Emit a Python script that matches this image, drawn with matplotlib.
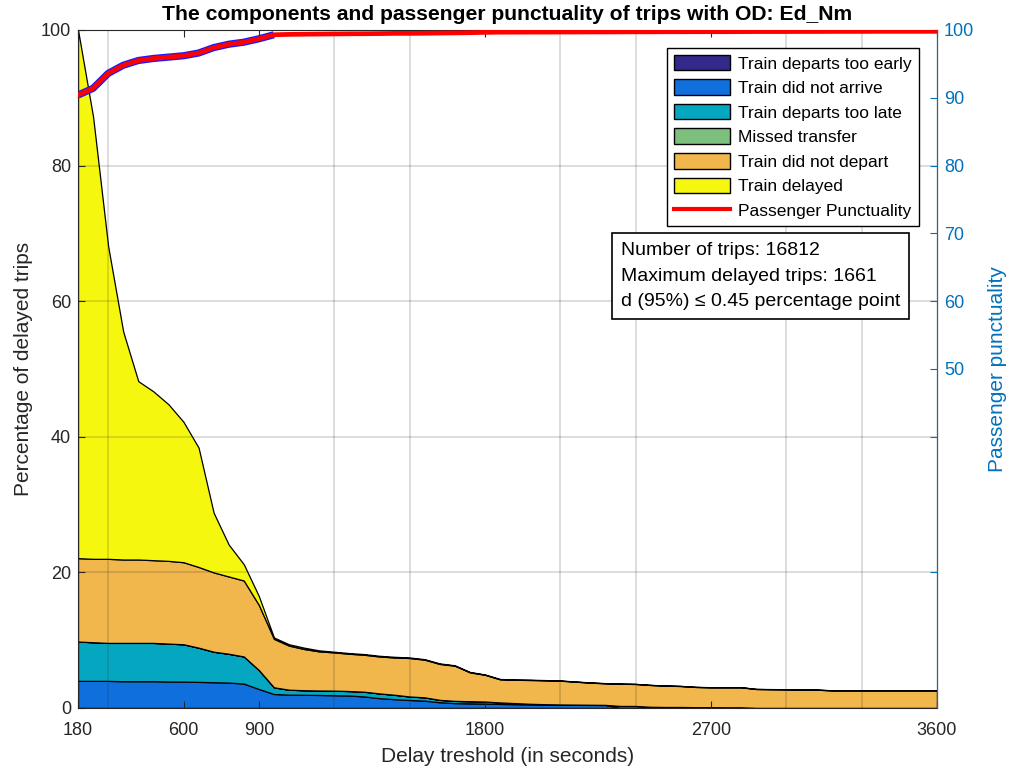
import numpy as np
import matplotlib
matplotlib.use("Agg")
import matplotlib.pyplot as plt
from matplotlib.patches import Patch
from matplotlib.lines import Line2D
from matplotlib.ticker import MultipleLocator

plt.rcParams['font.family'] = ['Liberation Sans', 'DejaVu Sans']

# ---------------- data ----------------
thresholds = np.arange(180, 3601, 60)

departs_too_early = [0.0] * 58
did_not_arrive = [4.0, 4.0, 4.0, 3.95, 3.95, 3.95, 3.9, 3.9, 3.85, 3.8, 3.75, 3.6, 2.8, 2.06,
                  1.97, 1.95, 1.92, 1.88, 1.84, 1.7, 1.45, 1.3, 1.18, 1.08, 0.85, 0.72, 0.68, 0.65,
                  0.6, 0.56, 0.53, 0.5, 0.48, 0.46, 0.45, 0.44,
                  0, 0, 0, 0, 0, 0, 0, 0, 0, 0, 0, 0, 0, 0, 0, 0, 0, 0, 0, 0, 0, 0]
departs_too_late = [5.8, 5.7, 5.6, 5.65, 5.65, 5.65, 5.6, 5.5, 5.05, 4.5, 4.25, 4.0, 2.8, 0.99,
                    0.73, 0.67, 0.66, 0.68, 0.66, 0.7, 0.7, 0.65, 0.52, 0.49, 0.35, 0.33, 0.32, 0.3,
                    0.22, 0.16, 0.09, 0.06, 0.04, 0.04, 0.03, 0.02,
                    0.3, 0.3, 0.18, 0.15, 0.15, 0.12, 0.12, 0.1, 0.1,
                    0, 0, 0, 0, 0, 0, 0, 0, 0, 0, 0, 0, 0]
missed_transfer = [0.0] * 58
did_not_depart = [12.3, 12.3, 12.4, 12.3, 12.3, 12.2, 12.2, 12.1, 11.9, 11.7, 11.4, 11.2, 9.6, 7.15,
                  6.5, 6.08, 5.77, 5.64, 5.5, 5.45, 5.45, 5.5, 5.67, 5.56, 5.3, 5.19, 4.26, 3.95,
                  3.41, 3.44, 3.51, 3.52, 3.51, 3.38, 3.26, 3.18,
                  3.28, 3.24, 3.21, 3.15, 3.09, 2.98, 2.93, 2.95, 2.95,
                  2.8, 2.77, 2.75, 2.72, 2.7, 2.6, 2.6, 2.6, 2.6, 2.6, 2.6, 2.6, 2.6]
train_delayed = [77.9, 65.2, 46.1, 33.6, 26.3, 24.9, 23.1, 20.7, 17.6, 8.8, 4.7, 2.4, 1.3, 0.2,
                 0.2, 0.2, 0.15, 0.1, 0.1, 0.1, 0.1, 0.1, 0.08, 0.07, 0.08, 0.06, 0.06, 0.05,
                 0.05, 0.04, 0.04, 0.04, 0.03, 0.03, 0.03, 0.03,
                 0.02, 0.02, 0.02, 0.02, 0.02, 0.02, 0.02, 0.02, 0.02,
                 0.02, 0.02, 0.02, 0.02, 0.02, 0.02, 0.02, 0.02, 0.02, 0.02, 0.02, 0.02, 0.02]
punctuality = [90.4, 91.4, 93.6, 94.8, 95.5, 95.8, 96.0, 96.2, 96.6, 97.4, 97.9, 98.2, 98.7, 99.3,
               99.35, 99.38, 99.4, 99.42, 99.44, 99.45, 99.47, 99.5, 99.5, 99.52, 99.55, 99.57, 99.6, 99.65,
               99.68, 99.68, 99.69, 99.69, 99.7, 99.7, 99.71, 99.71, 99.72, 99.73,
               99.73, 99.74, 99.74, 99.75, 99.75, 99.75, 99.76, 99.77, 99.77, 99.77,
               99.78, 99.78, 99.79, 99.79, 99.79, 99.8, 99.8, 99.8, 99.8, 99.8]
n_blue_overlay = 14  # points where the blue punctuality trace is visible

labels = ["Train departs too early", "Train did not arrive", "Train departs too late",
          "Missed transfer", "Train did not depart", "Train delayed"]
colors = ["#33298a", "#0f70dd", "#05a7c0", "#7dbf7c", "#f1b74c", "#f6f70f"]

x_ticks = [180, 600, 900, 1800, 2700, 3600]
right_ticks = [20, 40, 50, 60, 70, 80, 90, 100]
right_ticklabels = ["", "", "50", "60", "70", "80", "90", "100"]
info_lines = ["Number of trips: 16812", "Maximum delayed trips: 1661",
              "d (95%) \u2264 0.45 percentage point"]

# ---------------- plot ----------------
blue_ax = (0.0, 0.447, 0.741)
dark = (0.15, 0.15, 0.15)

fig = plt.figure(figsize=(10.16, 7.73), dpi=100)
ax = fig.add_axes([0.0768, 0.0841, 0.8454, 0.8771])

series = [departs_too_early, did_not_arrive, departs_too_late,
          missed_transfer, did_not_depart, train_delayed]
polys = ax.stackplot(thresholds, *series, colors=colors, edgecolor='black', linewidth=0.9)

ax.set_xlim(180, 3600)
ax.set_ylim(0, 100)
ax.set_xticks(x_ticks)
ax.xaxis.set_minor_locator(MultipleLocator(300))
ax.set_yticks(range(0, 101, 20))
ax.grid(False)
ax.grid(True, which='minor', axis='x', color=dark, alpha=0.17, linewidth=1.3)
ax.grid(True, which='major', axis='y', color=dark, alpha=0.17, linewidth=1.3)
ax.set_axisbelow(False)
ax.tick_params(axis='both', which='major', direction='in', length=5, labelsize=13,
               colors=dark, top=True, pad=5)
ax.tick_params(axis='x', which='major', pad=10)
ax.tick_params(axis='x', which='minor', length=0)
ax.tick_params(axis='y', right=False)
for s in ['left', 'bottom', 'top']:
    ax.spines[s].set_color(dark)
ax.set_xlabel("Delay treshold (in seconds)", fontsize=15, color=dark, labelpad=6)
ax.set_ylabel("Percentage of delayed trips", fontsize=15, color=dark, labelpad=6)
ax.set_title("The components and passenger punctuality of trips with OD: Ed_Nm",
             fontsize=15.2, fontweight='bold', pad=7)

ax2 = ax.twinx()
ax2.set_ylim(0, 100)
ax2.plot(thresholds[:n_blue_overlay], punctuality[:n_blue_overlay], color='#1a1aff',
         linewidth=5.2, solid_capstyle='butt', clip_on=True)
ax2.plot(thresholds, punctuality, color='#ff0000', linewidth=3.4, clip_on=True)
ax2.set_yticks(right_ticks)
ax2.set_yticklabels(right_ticklabels)
ax2.tick_params(axis='y', direction='in', length=5, labelsize=13, colors=blue_ax, pad=5)
ax2.spines['right'].set_color(blue_ax)
ax2.spines['left'].set_visible(False)
ax2.spines['top'].set_visible(False)
ax2.spines['bottom'].set_visible(False)
ax2.set_ylabel("Passenger punctuality", fontsize=15, color=blue_ax, labelpad=10)

handles = [Patch(facecolor=c, edgecolor='black', linewidth=1.0) for c in colors]
handles.append(Line2D([0], [0], color='#ff0000', linewidth=3.0))
leg = ax2.legend(handles, labels + ["Passenger Punctuality"], loc='upper right',
                 bbox_to_anchor=(0.979, 0.9735), borderaxespad=0, fontsize=12.5,
                 frameon=True, fancybox=False, edgecolor='black', framealpha=1,
                 handlelength=3.2, handleheight=1.0, labelspacing=0.45,
                 handletextpad=0.5, borderpad=0.4)
leg.get_frame().set_linewidth(1.0)

ax2.text(0.632, 0.687, "\n".join(info_lines), transform=ax2.transAxes,
         fontsize=14, va='top', ha='left', linespacing=1.65, color='black',
         bbox=dict(boxstyle='square,pad=0.45', facecolor='white', edgecolor='black',
                   linewidth=1.2))

fig.savefig("out.png", dpi=100)
